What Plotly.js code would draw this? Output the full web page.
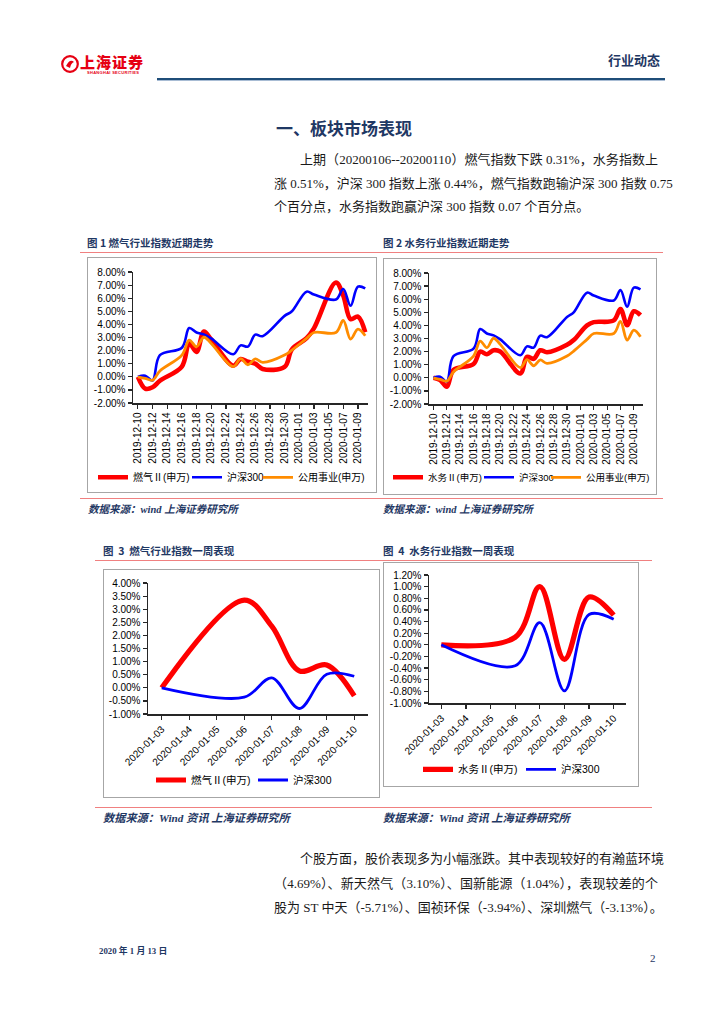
<!DOCTYPE html>
<html><head><meta charset="utf-8">
<script src="https://cdn.plot.ly/plotly-3.0.1.min.js"></script>
<style>
html,body{margin:0;padding:0;background:#fff;}
#page{position:relative;width:724px;height:1024px;overflow:hidden;background:#fff;}
.abs{position:absolute;white-space:nowrap;}
.body{font-family:"Liberation Serif","Noto Sans CJK SC",serif;font-size:13px;color:#1a1a1a;line-height:20px;height:20px;}
.just{text-align:justify;text-align-last:justify;}
.ftitle{font-family:"Noto Sans CJK SC",sans-serif;font-weight:bold;font-size:10.5px;color:#1F3864;line-height:16px;}
.src{font-family:"Liberation Serif","Noto Sans CJK SC",serif;font-style:italic;font-weight:bold;font-size:10.5px;color:#1F3864;line-height:14px;}
.src2{font-size:11.2px;}
.redline{position:absolute;height:1px;background:#F08080;}
.box{position:absolute;border:1px solid #A6A6A6;box-sizing:border-box;pointer-events:none;}
.chart{position:absolute;}
</style></head>
<body>
<div id="page">
  <!-- header -->
  <svg class="abs" style="left:60px;top:54px" width="20" height="20" viewBox="0 0 20 20">
    <circle cx="10" cy="10" r="7.8" fill="none" stroke="#E60012" stroke-width="2.2"/>
    <path d="M6 12 Q10 4 14 8 Q11 9 10 14 Z" fill="#E60012"/>
  </svg>
  <div class="abs" style="left:80px;top:53px;font-family:'Noto Sans CJK SC',sans-serif;font-weight:900;font-size:15px;line-height:18px;color:#E60012;letter-spacing:1px;">上海证券</div>
  <div class="abs" style="left:87px;top:70px;font-family:'Liberation Sans',sans-serif;font-weight:bold;font-size:4px;line-height:5px;color:#E60012;letter-spacing:0.3px;">SHANGHAI SECURITIES</div>
  <div class="abs" style="left:608px;top:51px;font-family:'Noto Sans CJK SC',sans-serif;font-weight:bold;font-size:13px;line-height:18px;color:#1F3864;">行业动态</div>
  <div class="abs" style="left:157px;top:78px;width:508px;height:2px;background:#1F4E79;"></div>
  <div class="abs" style="left:157px;top:80px;width:508px;height:1px;background:#A8BCD4;"></div>

  <!-- section title & paragraph 1 -->
  <div class="abs" style="left:276px;top:117px;font-family:'Noto Sans CJK SC',sans-serif;font-weight:bold;font-size:17px;line-height:22px;color:#1F3864;">一、板块市场表现</div>
  <div class="abs body just" style="left:300px;top:150px;width:358px;">上期（20200106--20200110）燃气指数下跌 0.31%，水务指数上</div>
  <div class="abs body just" style="left:274px;top:174px;width:384px;">涨 0.51%，沪深 300 指数上涨 0.44%，燃气指数跑输沪深 300 指数 0.75</div>
  <div class="abs body" style="left:274px;top:197px;">个百分点，水务指数跑赢沪深 300 指数 0.07 个百分点。</div>

  <!-- row 1 -->
  <div class="abs ftitle" style="left:87px;top:235px;">图 1 燃气行业指数近期走势</div>
  <div class="abs ftitle" style="left:383px;top:235px;">图 2 水务行业指数近期走势</div>
  <div class="redline" style="left:80px;top:252px;width:583px;"></div>
  <div id="c1" class="chart" style="left:87px;top:257px;width:290px;height:236px;"></div>
  <div class="box" style="left:87px;top:257px;width:290px;height:236px;"></div>
  <div id="c2" class="chart" style="left:383px;top:258px;width:274px;height:237px;"></div>
  <div class="box" style="left:383px;top:258px;width:274px;height:237px;"></div>
  <div class="redline" style="left:80px;top:498px;width:583px;"></div>
  <div class="abs src" style="left:88px;top:503px;">数据来源：wind 上海证券研究所</div>
  <div class="abs src" style="left:383px;top:503px;">数据来源：wind 上海证券研究所</div>

  <!-- row 2 -->
  <div class="abs ftitle" style="left:103px;top:543px;">图 &nbsp;3 &nbsp;燃气行业指数一周表现</div>
  <div class="abs ftitle" style="left:383px;top:543px;">图 &nbsp;4 &nbsp;水务行业指数一周表现</div>
  <div class="redline" style="left:95px;top:560px;width:557px;"></div>
  <div id="c3" class="chart" style="left:103px;top:569px;width:277px;height:229px;"></div>
  <div class="box" style="left:103px;top:569px;width:277px;height:229px;"></div>
  <div id="c4" class="chart" style="left:383px;top:562px;width:256px;height:225px;"></div>
  <div class="box" style="left:383px;top:562px;width:256px;height:225px;"></div>
  <div class="redline" style="left:95px;top:807px;width:557px;"></div>
  <div class="abs src src2" style="left:103px;top:811px;">数据来源：Wind 资讯 上海证券研究所</div>
  <div class="abs src src2" style="left:383px;top:811px;">数据来源：Wind 资讯 上海证券研究所</div>

  <!-- paragraph 2 -->
  <div class="abs body just" style="left:300px;top:849px;width:358px;">个股方面，股价表现多为小幅涨跌。其中表现较好的有瀚蓝环境</div>
  <div class="abs body just" style="left:274px;top:874px;width:384px;">（4.69%）、新天然气（3.10%）、国新能源（1.04%），表现较差的个</div>
  <div class="abs body just" style="left:274px;top:898px;width:386px;">股为 ST 中天（-5.71%）、国祯环保（-3.94%）、深圳燃气（-3.13%）。</div>

  <!-- footer -->
  <div class="abs" style="left:99px;top:944px;font-family:'Liberation Serif','Noto Sans CJK SC',serif;font-weight:bold;font-size:8.8px;line-height:14px;color:#1F3864;">2020 年 1 月 13 日</div>
  <div class="abs" style="left:650px;top:950px;font-family:'Liberation Serif',serif;font-size:11px;line-height:16px;color:#1F3864;">2</div>
</div>

<script>
// ---------- data ----------
const tradeDates = ['2019-12-10','2019-12-11','2019-12-12','2019-12-13','2019-12-16','2019-12-17','2019-12-18','2019-12-19','2019-12-20','2019-12-23','2019-12-24','2019-12-25','2019-12-26','2019-12-27','2019-12-30','2019-12-31','2020-01-02','2020-01-03','2020-01-06','2020-01-07','2020-01-08','2020-01-09','2020-01-10'];
const gasIndex   = [0, -0.9, -0.8, -0.3, 0.78, 2.55, 1.9, 3.45, 2.85, 0.85, 1.35, 1.15, 1.0, 0.6, 0.75, 2.1, 2.95, 3.7, 7.2, 6.2, 4.4, 4.6, 3.4];
const waterIndex = [0, -0.17, -0.68, 0.6, 1.05, 2.0, 1.8, 2.1, 2.0, 0.33, 1.6, 1.45, 2.1, 1.95, 2.52, 2.88, 4.0, 4.25, 4.38, 5.25, 4.02, 5.08, 4.78];
const hs300Index = [0, 0.08, -0.28, 1.65, 2.22, 3.72, 3.38, 3.24, 2.93, 1.72, 2.4, 2.3, 3.22, 3.1, 4.65, 5.0, 6.5, 6.28, 5.9, 6.7, 5.42, 6.88, 6.75];
const utilIndex  = [0, -0.12, -0.26, 0.45, 1.66, 2.8, 2.3, 3.02, 2.55, 0.78, 1.38, 0.92, 1.36, 1.1, 1.66, 2.04, 2.93, 3.38, 3.38, 4.3, 2.88, 3.64, 3.13];
const monthTicks = ['2019-12-10','2019-12-12','2019-12-14','2019-12-16','2019-12-18','2019-12-20','2019-12-22','2019-12-24','2019-12-26','2019-12-28','2019-12-30','2020-01-01','2020-01-03','2020-01-05','2020-01-07','2020-01-09'];
const monthYTicks = [-2,-1,0,1,2,3,4,5,6,7,8];
const monthYText = ['-2.00%','-1.00%','0.00%','1.00%','2.00%','3.00%','4.00%','5.00%','6.00%','7.00%','8.00%'];

const weekCategories = ['2020-01-03','2020-01-04','2020-01-05','2020-01-06','2020-01-07','2020-01-08','2020-01-09','2020-01-10'];
const weekTradeDays  = ['2020-01-03','2020-01-06','2020-01-07','2020-01-08','2020-01-09','2020-01-10'];
const gasWeek   = [0, 3.35, 2.35, 0.65, 0.87, -0.31];
const waterWeek = [0, 0.13, 1.0, -0.25, 0.82, 0.51];
const hs300Week = [0, -0.36, 0.38, -0.79, 0.52, 0.44];
const gasWeekYTicks = [-1,-0.5,0,0.5,1,1.5,2,2.5,3,3.5,4];
const gasWeekYText = ['-1.00%','-0.50%','0.00%','0.50%','1.00%','1.50%','2.00%','2.50%','3.00%','3.50%','4.00%'];
const waterWeekYTicks = [-1,-0.8,-0.6,-0.4,-0.2,0,0.2,0.4,0.6,0.8,1.0,1.2];
const waterWeekYText = ['-1.00%','-0.80%','-0.60%','-0.40%','-0.20%','0.00%','0.20%','0.40%','0.60%','0.80%','1.00%','1.20%'];

const nameGas = '燃气Ⅱ(申万)', nameWater = '水务Ⅱ(申万)', nameHS = '沪深300', nameUtil = '公用事业(申万)';

// ---------- styles ----------
const FONT = 'Liberation Sans, Arial, Noto Sans CJK SC, sans-serif';
const RED = '#FF0000', BLUE = '#0000FF', ORANGE = '#FF8C00', AXC = '#262626';

function lineTrace(x, y, name, color, width, legend) {
  return {type:'scatter', mode:'lines', x:x, y:y, name:name, legend:legend,
    line:{color:color, width:width, shape:'spline', smoothing:1}, hoverinfo:'skip'};
}
function yAxis(vals, texts) {
  return {range:[vals[0], vals[vals.length-1]], tickmode:'array', tickvals:vals, ticktext:texts,
    showgrid:false, zeroline:false, showline:true, linecolor:AXC, linewidth:1.5,
    ticks:'outside', ticklen:4, tickwidth:1.2, tickcolor:AXC,
    tickfont:{family:FONT, size:10, color:'#000'}, automargin:false, fixedrange:true};
}
function xDate(ticks) {
  return {type:'date', range:['2019-12-09 08:00','2020-01-10 09:00'], tickmode:'array', tickvals:ticks, ticktext:ticks,
    tickangle:-90, showgrid:false, zeroline:false, showline:true, linecolor:AXC, linewidth:1.5,
    ticks:'outside', ticklen:4, tickwidth:1.2, tickcolor:AXC,
    tickfont:{family:FONT, size:10, color:'#000'}, automargin:false, fixedrange:true};
}
function xCat(cats) {
  return {type:'category', categoryorder:'array', categoryarray:cats, range:[-0.5, cats.length-0.5],
    tickmode:'array', tickvals:cats, ticktext:cats, tickangle:-45,
    showgrid:false, zeroline:false, showline:true, linecolor:AXC, linewidth:1.5,
    ticks:'outside', ticklen:4, tickwidth:1.2, tickcolor:AXC,
    tickfont:{family:FONT, size:10, color:'#000'}, automargin:false, fixedrange:true};
}
function leg(xpx, ypx, W, H, size) {
  return {orientation:'h', xref:'container', yref:'container', x:xpx/W, y:1-ypx/H,
    xanchor:'left', yanchor:'middle', bgcolor:'rgba(0,0,0,0)', borderwidth:0,
    font:{family:FONT, size:size, color:'#000'}, itemwidth:30};
}
function baseLayout(W, H, m) {
  return {width:W, height:H, margin:m, paper_bgcolor:'rgba(0,0,0,0)', plot_bgcolor:'rgba(0,0,0,0)',
    showlegend:true, font:{family:FONT, size:10, color:'#000'}};
}
const cfg = {staticPlot:true, displayModeBar:false};

// Chart 1
(function(){
  const W=290, H=236;
  const L = baseLayout(W, H, {l:46.3, r:8.7, t:14.7, b:89.7, pad:0});
  L.xaxis = xDate(monthTicks); L.yaxis = yAxis(monthYTicks, monthYText);
  L.legend = leg(6, 220.3, W, H, 10); L.legend2 = leg(100, 220.3, W, H, 10); L.legend3 = leg(171, 220.3, W, H, 10);
  Plotly.newPlot('c1', [
    lineTrace(tradeDates, gasIndex, nameGas, RED, 4.6, 'legend'),
    lineTrace(tradeDates, hs300Index, nameHS, BLUE, 2.6, 'legend2'),
    lineTrace(tradeDates, utilIndex, nameUtil, ORANGE, 2.8, 'legend3')
  ], L, cfg);
})();
// Chart 2
(function(){
  const W=274, H=237;
  const L = baseLayout(W, H, {l:46.3, r:13.7, t:14.7, b:91, pad:0});
  L.xaxis = xDate(monthTicks); L.yaxis = yAxis(monthYTicks, monthYText);
  L.legend = leg(5, 219.3, W, H, 9.5); L.legend2 = leg(96, 219.3, W, H, 9.5); L.legend3 = leg(163, 219.3, W, H, 9.5);
  Plotly.newPlot('c2', [
    lineTrace(tradeDates, waterIndex, nameWater, RED, 4.6, 'legend'),
    lineTrace(tradeDates, hs300Index, nameHS, BLUE, 2.6, 'legend2'),
    lineTrace(tradeDates, utilIndex, nameUtil, ORANGE, 2.8, 'legend3')
  ], L, cfg);
})();
// Chart 3
(function(){
  const W=277, H=229;
  const L = baseLayout(W, H, {l:45.3, r:11.7, t:13.7, b:84, pad:0});
  L.xaxis = xCat(weekCategories); L.yaxis = yAxis(gasWeekYTicks, gasWeekYText);
  L.legend = leg(48, 211, W, H, 10.5); L.legend2 = leg(150, 211, W, H, 10.5);
  Plotly.newPlot('c3', [
    lineTrace(weekTradeDays, gasWeek, nameGas, RED, 5.2, 'legend'),
    lineTrace(weekTradeDays, hs300Week, nameHS, BLUE, 2.8, 'legend2')
  ], L, cfg);
})();
// Chart 4
(function(){
  const W=256, H=225;
  const L = baseLayout(W, H, {l:46.3, r:13, t:13, b:83.7, pad:0});
  L.xaxis = xCat(weekCategories); L.yaxis = yAxis(waterWeekYTicks, waterWeekYText);
  L.legend = leg(35, 207.3, W, H, 10.5); L.legend2 = leg(138, 207.3, W, H, 10.5);
  Plotly.newPlot('c4', [
    lineTrace(weekTradeDays, waterWeek, nameWater, RED, 5.2, 'legend'),
    lineTrace(weekTradeDays, hs300Week, nameHS, BLUE, 2.8, 'legend2')
  ], L, cfg);
})();
</script>
</body></html>
